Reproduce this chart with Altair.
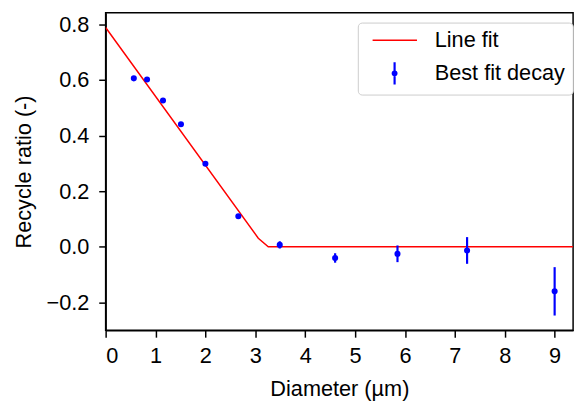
import altair as alt
import pandas as pd

diam = [0.565, 0.83, 1.15, 1.51, 2.0, 2.66, 3.49, 4.60, 5.85, 7.245, 9.0]
ratio = [0.606, 0.602, 0.526, 0.441, 0.299, 0.110, 0.007, -0.040, -0.025, -0.013, -0.160]
err = [0.004, 0.004, 0.004, 0.004, 0.004, 0.004, 0.013, 0.017, 0.030, 0.048, 0.087]

fit_x = [0.0, 3.06, 3.26, 9.37]
fit_y = [0.789, 0.031, 0.0, 0.0]

x_ticks = [0, 1, 2, 3, 4, 5, 6, 7, 8, 9]
y_ticks = [-0.2, 0.0, 0.2, 0.4, 0.6, 0.8]

series = ["Line fit", "Best fit decay"]
colors = ["#ff0000", "#0000ff"]

pts = pd.DataFrame({
    "d": diam,
    "r": ratio,
    "lo": [r - e for r, e in zip(ratio, err)],
    "hi": [r + e for r, e in zip(ratio, err)],
})
fit = pd.DataFrame({"d": fit_x, "r": fit_y})
leg = pd.DataFrame({"s": series})

FONT = "Liberation Sans"
FS = 22

xs = alt.Scale(domain=[0, 9.37], nice=False, zero=False)
ys = alt.Scale(domain=[-0.3, 0.842], nice=False, zero=False)

# legend glyphs (custom symbol paths, unit = sqrt(symbolSize)/2 px)
line_glyph = "M-0.6,0H8.4"
err_glyph = ("M3.79,-2.27V2.27M3.93,-2.27V2.27"
             "M3.41,0a0.45,0.45 0 1,0 0.9,0a0.45,0.45 0 1,0 -0.9,0"
             "M3.66,0a0.2,0.2 0 1,0 0.4,0a0.2,0.2 0 1,0 -0.4,0")

legend = alt.Legend(
    title=None,
    orient="none",
    legendX=255.7,
    legendY=10,
    strokeColor="#cccccc",
    fillColor="white",
    cornerRadius=4,
    padding=7,
    labelFont=FONT,
    labelFontSize=FS,
    labelColor="black",
    symbolSize=100,
    symbolStrokeWidth=1.5,
    symbolOpacity=1,
    labelOffset=49,
    rowPadding=7.5,
)

xax = alt.Axis(values=x_ticks, format="d", title="Diameter (µm)", grid=False,
               tickSize=7, labelPadding=9, titlePadding=12)
yax = alt.Axis(values=y_ticks, format=".1f", title="Recycle ratio (-)", grid=False,
               tickSize=7, labelPadding=10, titlePadding=11)

line = alt.Chart(fit).mark_line(strokeWidth=1.5, clip=True, color=colors[0]).encode(
    x=alt.X("d:Q", scale=xs, axis=xax),
    y=alt.Y("r:Q", scale=ys, axis=yax),
)
bars = alt.Chart(pts).mark_rule(strokeWidth=2.2, color=colors[1]).encode(
    x=alt.X("d:Q", scale=xs),
    y=alt.Y("lo:Q", scale=ys),
    y2="hi:Q",
)
dots = alt.Chart(pts).mark_circle(size=38, opacity=1, color=colors[1]).encode(
    x=alt.X("d:Q", scale=xs),
    y=alt.Y("r:Q", scale=ys),
)
legend_layer = alt.Chart(leg).mark_point(filled=False, clip=True, opacity=1).encode(
    x=alt.value(-500),
    y=alt.value(-500),
    color=alt.Color("s:N", scale=alt.Scale(domain=series, range=colors), legend=legend),
    shape=alt.Shape("s:N", scale=alt.Scale(domain=series, range=[line_glyph, err_glyph]),
                    legend=legend),
)

chart = alt.layer(line, bars, dots, legend_layer).properties(
    width=474,
    height=322,
    autosize=alt.AutoSizeParams(type="none"),
    padding={"left": 99, "top": 2, "right": 7, "bottom": 73},
).configure_view(
    stroke="black", strokeWidth=1.5
).configure_axis(
    domainColor="black", domainWidth=1.5, tickColor="black", tickWidth=1.5,
    labelFont=FONT, labelFontSize=FS, labelColor="black",
    titleFont=FONT, titleFontSize=FS, titleColor="black", titleFontWeight="normal",
)

chart.save("out.html", embed_options={"renderer": "svg", "actions": False})
